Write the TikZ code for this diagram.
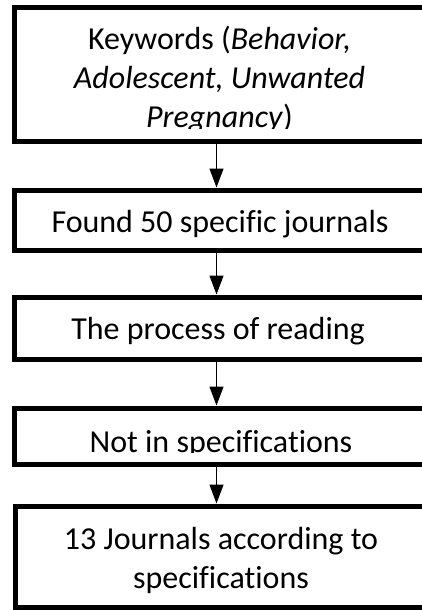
\documentclass[tikz,border=0pt]{standalone}
\usepackage{fontspec}
\setmainfont{Carlito}[Ligatures=CommonOff]
\usetikzlibrary{arrows.meta,positioning}

\begin{document}
\begin{tikzpicture}[x=1pt,y=-1pt,
  stepbox/.style={draw, line width=5pt, minimum width=410.5pt, inner sep=0pt},
  steptext/.style={font=\fontsize{32}{39}\selectfont, align=center, inner sep=0pt, anchor=base},
  flow/.style={line width=1.3pt, -{Triangle[length=19pt,width=14pt]}}]
  \useasboundingbox (0,0) rectangle (422,610);
  \clip (0,0) rectangle (422,610);

  % Boxes
  \node[stepbox, minimum height=133.5pt] (kw) at (219.75,74.25) {};
  \node[stepbox, minimum height=60pt] (found) at (219.75,220) {};
  \node[stepbox, minimum height=62pt] (read) at (219.75,328) {};
  \node[stepbox, minimum height=56.5pt] (notin) at (219.75,436.25) {};
  \node[stepbox, minimum height=101.5pt, minimum width=409.5pt] (res) at (220.25,556.75) {};

  % Texts (base = last line), cut at the inner text area of each box
  \begin{scope}
    \clip ([shift={(10pt,-15pt)}]kw.north west) rectangle ([shift={(-10pt,15pt)}]kw.south east);
    \node[steptext] (kwtext) at (219.5,127) {Keywords (\textit{Behavior,}\\\textit{Adolescent, Unwanted}\\\textit{Pregnancy})};
  \end{scope}
  \node[steptext] (foundtext) at (220,232) {Found 50 specific journals};
  \node[steptext] (readtext) at (218,339) {The process of reading};
  \begin{scope}
    \clip ([shift={(10pt,-15pt)}]notin.north west) rectangle ([shift={(-10pt,15pt)}]notin.south east);
    \node[steptext] (notintext) at (221,452) {Not in specifications};
  \end{scope}
  \node[steptext] (restext) at (221,588) {13 Journals according to\\specifications};

  % Arrows
  \coordinate (axis) at (216.5,0);
  \draw[flow] (kw.south -| axis) -- (found.north -| axis);
  \draw[flow] (found.south -| axis) -- (read.north -| axis);
  \draw[flow] (read.south -| axis) -- (notin.north -| axis);
  \draw[flow] (notin.south -| axis) -- (res.north -| axis);
\end{tikzpicture}
\end{document}
